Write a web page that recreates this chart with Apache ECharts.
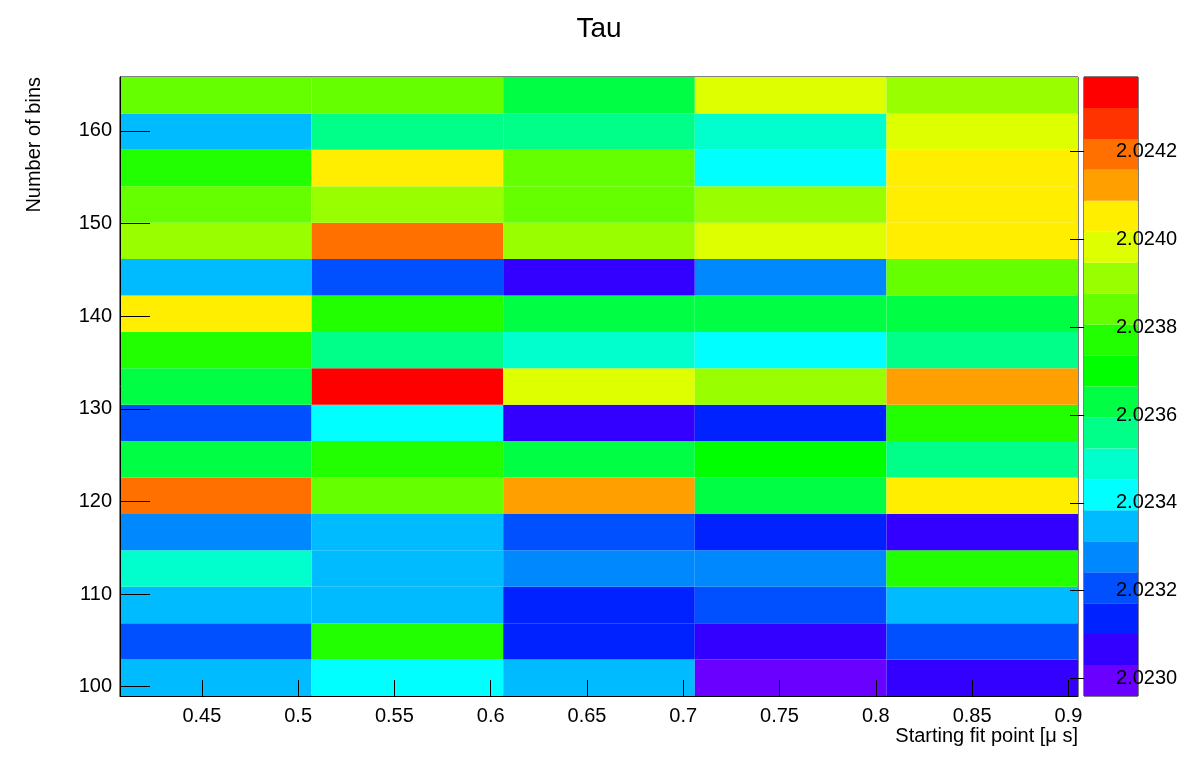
<!DOCTYPE html>
<html>
<head>
<meta charset="utf-8">
<title>Tau</title>
<script src="https://cdn.jsdelivr.net/npm/echarts@6/dist/echarts.min.js"></script>
<style>html,body{margin:0;background:#fff}#c{width:1198px;height:774px}</style>
</head>
<body>
<div id="c"></div>
<script>
// bin edges
var xEdges = [0.4075, 0.507, 0.6065, 0.706, 0.8055, 0.905];
var yEdges = [99, 102.93, 106.86, 110.79, 114.72, 118.65, 122.58, 126.51, 130.44, 134.37, 138.3, 142.23, 146.16, 150.09, 154.02, 157.95, 161.88, 165.81];
var xTicks = [0.45, 0.5, 0.55, 0.6, 0.65, 0.7, 0.75, 0.8, 0.85, 0.9];
var yTicks = [100, 110, 120, 130, 140, 150, 160];
var zMin = 2.02296, zMax = 2.02437;
var zTicks = [2.0230, 2.0232, 2.0234, 2.0236, 2.0238, 2.0240, 2.0242];
var palette = ['#6a00ff','#3300ff','#0022ff','#0050ff','#0088ff','#00bbff','#00ffff','#00ffcc','#00ff88','#00ff44',
  '#00ff00','#22ff00','#66ff00','#99ff00','#ddff00','#ffee00','#ffa000','#ff7000','#ff3300','#ff0000'];
// tau values, rows bottom to top, columns left to right
var tau = [
  [2.02335, 2.02342, 2.02335, 2.02300, 2.02307],
  [2.02321, 2.02377, 2.02314, 2.02307, 2.02321],
  [2.02335, 2.02335, 2.02314, 2.02321, 2.02335],
  [2.02349, 2.02335, 2.02328, 2.02328, 2.02377],
  [2.02328, 2.02335, 2.02321, 2.02314, 2.02307],
  [2.02420, 2.02384, 2.02413, 2.02363, 2.02406],
  [2.02363, 2.02377, 2.02363, 2.02370, 2.02356],
  [2.02321, 2.02342, 2.02307, 2.02314, 2.02377],
  [2.02363, 2.02434, 2.02399, 2.02391, 2.02413],
  [2.02377, 2.02356, 2.02349, 2.02342, 2.02356],
  [2.02406, 2.02377, 2.02363, 2.02363, 2.02363],
  [2.02335, 2.02321, 2.02307, 2.02328, 2.02384],
  [2.02391, 2.02420, 2.02391, 2.02399, 2.02406],
  [2.02384, 2.02391, 2.02384, 2.02391, 2.02406],
  [2.02377, 2.02406, 2.02384, 2.02342, 2.02406],
  [2.02335, 2.02356, 2.02356, 2.02349, 2.02399],
  [2.02384, 2.02384, 2.02363, 2.02399, 2.02391]
];

var step = (zMax - zMin) / palette.length;
function colorOf(v) {
  var i = Math.floor((v - zMin) / step);
  return palette[Math.max(0, Math.min(palette.length - 1, i))];
}
var cells = [];
tau.forEach(function (row, j) {
  row.forEach(function (v, i) { cells.push([i, j, v]); });
});
var bands = palette.map(function (c, k) { return [k]; });

var font = 'Liberation Sans, Arial, sans-serif';
var chart = echarts.init(document.getElementById('c'));
chart.setOption({
  animation: false,
  textStyle: { fontFamily: font },
  title: { text: 'Tau', left: 'center', top: 10, textStyle: { fontSize: 28, fontWeight: 'normal', color: '#000' } },
  grid: [
    { left: 120, right: 120, top: 77, bottom: 78, show: true, borderColor: '#000', borderWidth: 1, backgroundColor: 'transparent' },
    { left: 1084, width: 54, top: 77, bottom: 78, show: true, borderColor: '#000', borderWidth: 1 }
  ],
  xAxis: [
    { type: 'value', gridIndex: 0, min: xEdges[0], max: xEdges[5], z: 10,
      axisLine: { lineStyle: { color: '#000' } }, splitLine: { show: false },
      axisTick: { show: true, inside: true, length: 16, customValues: xTicks, lineStyle: { color: '#000' } },
      axisLabel: { customValues: xTicks, color: '#000', fontSize: 20, margin: 10, formatter: function (v) { return String(+v.toFixed(2)); } } },
    { type: 'value', gridIndex: 1, min: 0, max: 1, show: false }
  ],
  yAxis: [
    { type: 'value', gridIndex: 0, min: yEdges[0], max: yEdges[17], z: 10,
      axisLine: { lineStyle: { color: '#000' } }, splitLine: { show: false },
      axisTick: { show: true, inside: true, length: 30, customValues: yTicks, lineStyle: { color: '#000' } },
      axisLabel: { customValues: yTicks, color: '#000', fontSize: 20, margin: 8 } },
    { type: 'value', gridIndex: 1, position: 'right', min: zMin, max: zMax, z: 10,
      axisLine: { show: false }, splitLine: { show: false },
      axisTick: { show: true, inside: true, length: 14, customValues: zTicks, lineStyle: { color: '#000' } },
      axisLabel: { customValues: zTicks, color: '#000', fontSize: 20, margin: -22, formatter: function (v) { return v.toFixed(4); } } }
  ],
  graphic: [
    { type: 'text', right: 120, top: 726, style: { text: 'Starting fit point [\u03bc s]', fontSize: 20, fill: '#000', fontFamily: font } },
    { type: 'text', left: 24, top: 77, rotation: Math.PI / 2, style: { text: 'Number of bins', fontSize: 20, fill: '#000', fontFamily: font } }
  ],
  series: [
    { type: 'custom', xAxisIndex: 0, yAxisIndex: 0, data: cells, z: 1,
      renderItem: function (params, api) {
        var i = api.value(0), j = api.value(1);
        var p0 = api.coord([xEdges[i], yEdges[j + 1]]);
        var p1 = api.coord([xEdges[i + 1], yEdges[j]]);
        return { type: 'rect', shape: { x: p0[0], y: p0[1], width: p1[0] - p0[0], height: p1[1] - p0[1] },
          style: { fill: colorOf(api.value(2)) } };
      } },
    { type: 'custom', xAxisIndex: 1, yAxisIndex: 1, data: bands, z: 1,
      renderItem: function (params, api) {
        var k = api.value(0);
        var p0 = api.coord([0, zMin + (k + 1) * step]);
        var p1 = api.coord([1, zMin + k * step]);
        return { type: 'rect', shape: { x: p0[0], y: p0[1], width: p1[0] - p0[0], height: p1[1] - p0[1] },
          style: { fill: palette[k] } };
      } }
  ]
});
</script>
</body>
</html>
